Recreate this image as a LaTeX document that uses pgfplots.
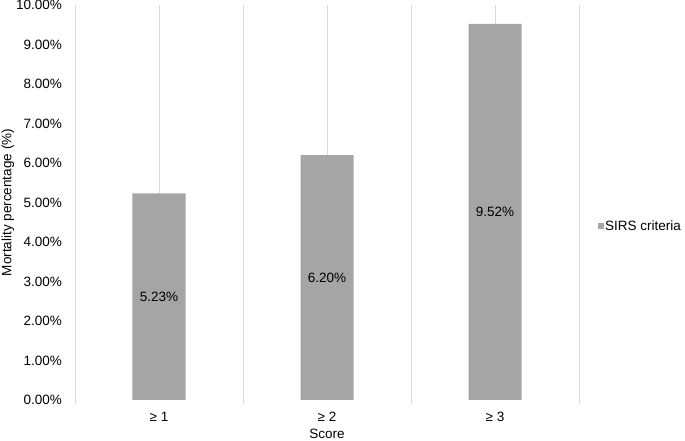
\documentclass[border=0pt]{standalone}
\usepackage{fontspec}
\setmainfont{Liberation Sans}
\usepackage{pgfplots}
\pgfplotsset{compat=1.18}
\definecolor{barg}{HTML}{A5A5A5}
\definecolor{gridg}{HTML}{D9D9D9}
\begin{document}
\begin{tikzpicture}[font=\fontsize{13.5bp}{16bp}\selectfont]
\begin{axis}[
  at={(0,0)}, anchor=south west,
  scale only axis, width=504bp, height=395bp,
  xmin=-0.5, xmax=2.5, ymin=0, ymax=10,
  axis line style={draw=none},
  xtick={0,1,2}, xticklabels={≥ 1, ≥ 2, ≥ 3},
  minor xtick={-0.5,0.5,1.5,2.5},
  xtick pos=bottom, ytick pos=left,
  xmajorgrids, xminorgrids,
  major grid style={gridg, line width=0.75bp},
  minor grid style={gridg, line width=0.75bp},
  major tick length=0pt, minor tick length=4bp, tick align=outside,
  minor tick style={gridg, line width=0.75bp},
  major tick style={draw=none},
  ytick={0,1,...,10},
  /pgf/number format/assume math mode=true,
  yticklabel={\pgfmathprintnumber[fixed,fixed zerofill,precision=2]{\tick}\%},
  yticklabel style={anchor=east, inner sep=0pt, xshift=-13bp},
  xticklabel style={anchor=center, inner sep=0pt, yshift=-17bp},
  xlabel={Score},
  xlabel style={at={([yshift=-33.5bp]axis description cs:0.5,0)}, anchor=center},
  ylabel={Mortality percentage (\%)},
  ylabel style={at={([xshift=-67bp]axis description cs:0,0.5)}, anchor=center},
  legend style={at={(1.0377,0.4405)}, anchor=west, draw=none, fill=none, inner sep=0pt, nodes={inner sep=1bp}, cells={anchor=west}},
]
\draw[gridg, line width=0.75bp] (axis cs:-0.5,0) -- (axis cs:2.5,0);
\addplot[ybar, bar width=53bp, fill=barg, draw=none,
  legend image code/.code={\fill[barg] (0bp,-3bp) rectangle (6bp,3bp);},
  visualization depends on={rawy \as \rawy},
  nodes near coords={\pgfmathprintnumber[fixed,fixed zerofill,precision=2,assume math mode=true]{\pgfplotspointmeta}\%},
  every node near coord/.append style={anchor=center, inner sep=0pt, text=black, yshift=-19.75bp*\rawy},
] coordinates {(0,5.23) (1,6.20) (2,9.52)};
\addlegendentry{SIRS criteria}
\end{axis}
\pgfresetboundingbox
\useasboundingbox (-75bp,-41bp) rectangle (610bp,400bp);
\end{tikzpicture}
\end{document}
